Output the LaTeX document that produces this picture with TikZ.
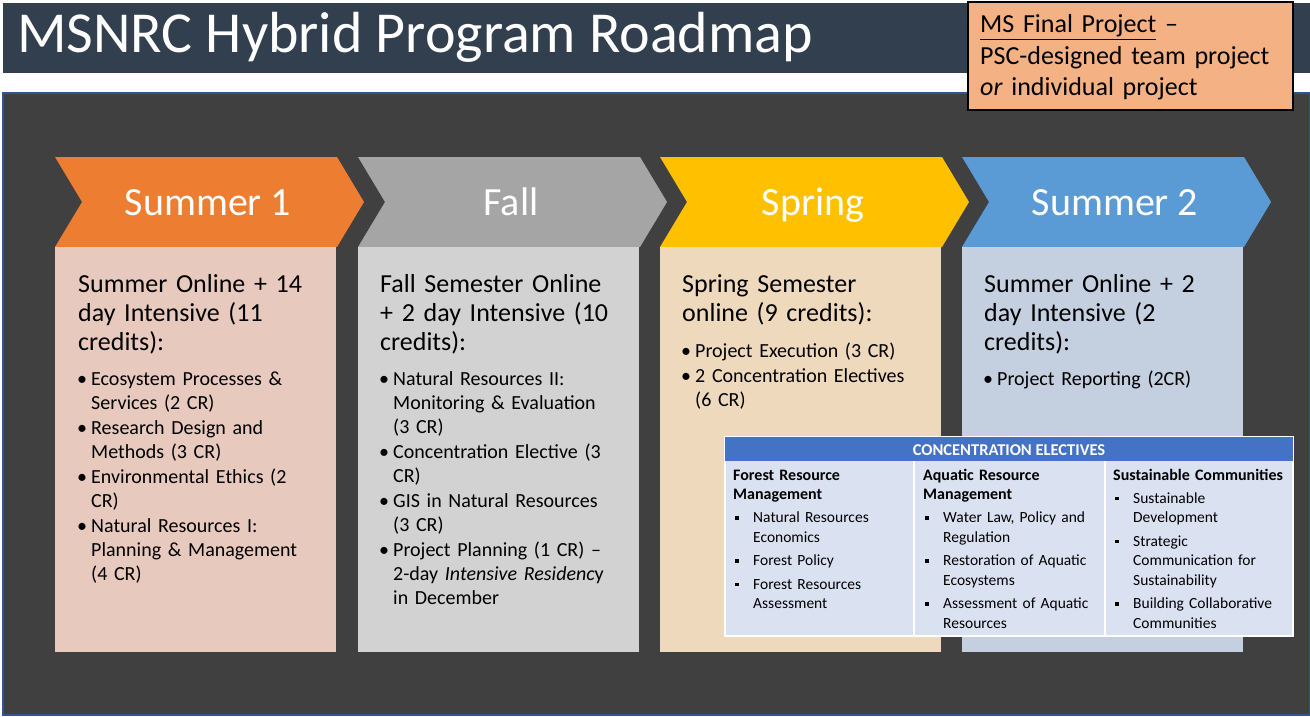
\documentclass[tikz,border=0pt]{standalone}
\usepackage{fontspec}
\setmainfont{Carlito}

\definecolor{titlebar}{HTML}{323F4F}
\definecolor{panel}{HTML}{404040}
\definecolor{panelline}{HTML}{2F5597}
\definecolor{finalbox}{HTML}{F4B183}
\definecolor{chevA}{HTML}{ED7D31}
\definecolor{chevB}{HTML}{A5A5A5}
\definecolor{chevC}{HTML}{FFC000}
\definecolor{chevD}{HTML}{5B9BD5}
\definecolor{boxA}{HTML}{E8C9BE}
\definecolor{boxB}{HTML}{D2D2D2}
\definecolor{boxC}{HTML}{EFD9BD}
\definecolor{boxD}{HTML}{C4CFDF}
\definecolor{tblhead}{HTML}{4472C4}
\definecolor{tblbody}{HTML}{DAE2F2}

\newcommand{\bdot}{\makebox[14pt][l]{\textbullet}}
\newcommand{\bgap}{\hspace*{14pt}}
\newcommand{\sqdot}{\makebox[20pt][l]{\hspace{2pt}\rule[3pt]{3.5pt}{3.5pt}}}
\newcommand{\sqgap}{\hspace*{20pt}}
\newcommand{\colhd}[1]{\textbf{\fontsize{16}{19.5}\selectfont #1}}

\begin{document}
\begin{tikzpicture}
      [x=1pt,y=-1pt,%%%%%%%%%%%%%%%%%%%%%%%%%%%%%%
      title/.style={anchor=base west,inner sep=0pt,text=white,font=\fontsize{58}{62}\selectfont},
      lbl/.style={anchor=base,inner sep=0pt,text=white,font=\fontsize{40}{44}\selectfont},
      hd/.style={anchor=base west,inner sep=0pt,text width=270pt,align=left,font=\fontsize{26}{29}\selectfont},
      lst/.style={anchor=base west,inner sep=0pt,text width=270pt,align=left,font=\fontsize{20}{24}\selectfont},
      fin/.style={anchor=base west,inner sep=0pt,text width=310pt,align=left,font=\fontsize{26}{31.5}\selectfont},
      tbl/.style={anchor=base west,inner sep=0pt,text width=185pt,align=left,font=\fontsize{15.5}{19.5}\selectfont},
      ]%%%%%%%%%%%%%%%%%%%%%%%%%%%%%%

      \useasboundingbox (0,0) rectangle (1310,717);
      \fill[white] (0,0) rectangle (1310,717);

      % title bar and panel
      \fill[titlebar] (3,3) rectangle (1310,73);
      \node[title] (title) at (17,53) {MSNRC Hybrid Program Roadmap};
      \filldraw[fill=panel,draw=panelline,line width=1.5] (3,93) rectangle (1310,715);

      % final project box
      \filldraw[fill=finalbox,draw=black,line width=2.5] (968,2) rectangle (1293,110);
      \node[fin] (final) at (980,33) {\underline{MS Final Project} --\\PSC-designed team project\\\textit{or} individual project};

      % chevrons and term boxes
      \foreach \x/\c/\b/\t [count=\i] in {55/chevA/boxA/Summer 1,358/chevB/boxB/Fall,660/chevC/boxC/Spring,962/chevD/boxD/Summer 2}{
        \fill[\c] (\x,157) -- ++(282,0) -- ++(27,45) -- ++(-27,45) -- ++(-282,0) -- ++(27,-45) -- cycle;
        \fill[\b] (\x,247) rectangle ++(281,405);
        \node[lbl] (term\i) at (\x+153,215) {\t};
      }

      \node[hd] (headA) at (78,292) {Summer Online + 14\\day Intensive (11\\credits):};
      \node[lst] (listA) at (77,385) {\bdot Ecosystem Processes \&\\\bgap Services (2 CR)\\[1pt]
        \bdot Research Design and\\\bgap Methods (3 CR)\\[1pt]
        \bdot Environmental Ethics (2\\\bgap CR)\\[1pt]
        \bdot Natural Resources I:\\\bgap Planning \& Management\\\bgap (4 CR)};

      \node[hd] (headB) at (380,292) {Fall Semester Online\\+ 2 day Intensive (10\\credits):};
      \node[lst] (listB) at (379,385) {\bdot Natural Resources II:\\\bgap Monitoring \& Evaluation\\\bgap (3 CR)\\[1pt]
        \bdot Concentration Elective (3\\\bgap CR)\\[1pt]
        \bdot GIS in Natural Resources\\\bgap (3 CR)\\[1pt]
        \bdot Project Planning (1 CR) --\\\bgap 2-day \textit{Intensive Residenc}y\\\bgap in December};

      \node[hd] (headC) at (682,292) {Spring Semester\\online (9 credits):};
      \node[lst] (listC) at (681,357) {\bdot Project Execution (3 CR)\\[1pt]
        \bdot 2 Concentration Electives\\\bgap (6 CR)};

      \node[hd] (headD) at (984,292) {Summer Online + 2\\day Intensive (2\\credits):};
      \node[lst] (listD) at (983,385) {\bdot Project Reporting (2CR)};

      % concentration electives table
      \filldraw[fill=tblbody,draw=white,line width=1.2] (725,437) rectangle (1293,636);
      \fill[tblhead] (725,437) rectangle (1293,461);
      \draw[white,line width=1.2] (914,461) -- (914,636) (1105,461) -- (1105,636);
      \node[anchor=base,inner sep=0pt,text=white,font=\bfseries\fontsize{16.5}{18}\selectfont] (tblhd) at (1009,455) {CONCENTRATION ELECTIVES};

      \node[tbl] (colA) at (733,480) {\colhd{Forest Resource}\\\colhd{Management}\\[3.5pt]
        \sqdot Natural Resources\\\sqgap Economics\\[4pt]
        \sqdot Forest Policy\\[4pt]
        \sqdot Forest Resources\\\sqgap Assessment};
      \node[tbl] (colB) at (923,480) {\colhd{Aquatic Resource}\\\colhd{Management}\\[3.5pt]
        \sqdot Water Law, Policy and\\\sqgap Regulation\\[4pt]
        \sqdot Restoration of Aquatic\\\sqgap Ecosystems\\[4pt]
        \sqdot Assessment of Aquatic\\\sqgap Resources};
      \node[tbl] (colC) at (1113,480) {\colhd{Sustainable Communities}\\[3.5pt]
        \sqdot Sustainable\\\sqgap Development\\[4pt]
        \sqdot Strategic\\\sqgap Communication for\\\sqgap Sustainability\\[4pt]
        \sqdot Building Collaborative\\\sqgap Communities};
    \end{tikzpicture}
\end{document}
